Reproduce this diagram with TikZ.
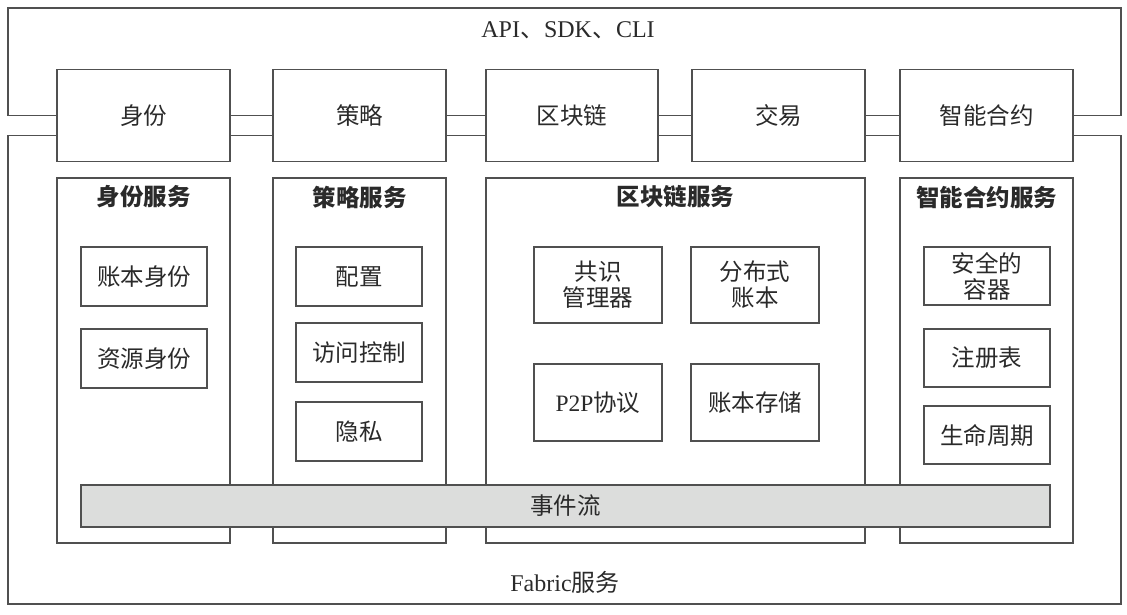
\documentclass[tikz,border=0pt]{standalone}
\usepackage{fontspec}
\setmainfont{Liberation Serif}
\newfontfamily\cjk{Noto Sans CJK SC}
\definecolor{ln}{HTML}{505050}
\definecolor{barfill}{HTML}{DCDDDC}
\definecolor{txt}{HTML}{2A2A2A}
\tikzset{
  box/.style={draw=ln, line width=1.3pt, rectangle, inner sep=0pt, outer sep=0pt, fill=white, text=txt,
    font=\cjk\fontsize{23.5}{26}\selectfont, align=center},
  svcbox/.style={draw=ln, line width=1.3pt, rectangle, inner sep=0pt, outer sep=0pt},
  ttl/.style={text=txt, font=\cjk\bfseries\fontsize{23.5}{26}\selectfont, inner sep=0pt},
  lbl/.style={text=txt, font=\fontsize{24}{28}\selectfont, inner sep=0pt},
  frame/.style={draw=ln, line width=1.3pt},
}
\begin{document}
\begin{tikzpicture}[x=1pt, y=-1pt]
\useasboundingbox (0,0) rectangle (1127,614);
% top interface boxes
\node[box, minimum width=173pt, minimum height=92pt] (id)  at (143.5,115.5) {身份};
\node[box, minimum width=173pt, minimum height=92pt] (pol) at (359.5,115.5) {策略};
\node[box, minimum width=172pt, minimum height=92pt] (bc)  at (572,115.5) {区块链};
\node[box, minimum width=173pt, minimum height=92pt] (tx)  at (778.5,115.5) {交易};
\node[box, minimum width=173pt, minimum height=92pt] (sc)  at (986.5,115.5) {智能合约};
% API frame
\coordinate (tl) at (8,8);
\coordinate (tr) at (1121,8);
\coordinate (bl) at (8,604);
\coordinate (br) at (1121,604);
\draw[frame] (id.west) -- (id.west -| tl) -- (tl) -- (tr) -- (sc.east -| tr) -- (sc.east);
\draw[frame] ([yshift=-20pt]id.west) -- ([yshift=-20pt]id.west -| bl) -- (bl) -- (br) -- ([yshift=-20pt]sc.east -| br) -- ([yshift=-20pt]sc.east);
\foreach \a/\b in {id/pol, pol/bc, bc/tx, tx/sc}{
  \draw[frame] (\a.east) -- (\b.west);
  \draw[frame] ([yshift=-20pt]\a.east) -- ([yshift=-20pt]\b.west);
}
\node[lbl] (api) at (568,30) {API{\cjk 、}SDK{\cjk 、}CLI};
\node[lbl] (fab) at (565,582) {Fabric{\cjk 服务}};
% service boxes
\node[svcbox, minimum width=173pt, minimum height=365pt] (ids) at (143.5,360.5) {};
\node[svcbox, minimum width=173pt, minimum height=365pt] (pols) at (359.5,360.5) {};
\node[svcbox, minimum width=379pt, minimum height=365pt] (bcs) at (675.5,360.5) {};
\node[svcbox, minimum width=173pt, minimum height=365pt] (scs) at (986.5,360.5) {};
\node[ttl] (idst) at (143.5,197) {身份服务};
\node[ttl] (polst) at (359.5,197) {策略服务};
\node[ttl] (bcst) at (675.5,197) {区块链服务};
\node[ttl] (scst) at (986.5,197) {智能合约服务};
% identity
\node[box, minimum width=126pt, minimum height=59pt] (id1) at (144,276.5) {账本身份};
\node[box, minimum width=126pt, minimum height=59pt] (id2) at (144,358.5) {资源身份};
% policy
\node[box, minimum width=126pt, minimum height=59pt] (p1) at (359,276.5) {配置};
\node[box, minimum width=126pt, minimum height=59pt] (p2) at (359,352.5) {访问控制};
\node[box, minimum width=126pt, minimum height=59pt] (p3) at (359,431.5) {隐私};
% blockchain
\node[box, minimum width=128pt, minimum height=76pt] (b1) at (598,285) {共识\\管理器};
\node[box, minimum width=128pt, minimum height=76pt] (b2) at (755,285) {分布式\\账本};
\node[box, minimum width=128pt, minimum height=77pt] (b3) at (598,402.5) {{\rmfamily P2P}协议};
\node[box, minimum width=128pt, minimum height=77pt] (b4) at (755,402.5) {账本存储};
% smart contract
\node[box, minimum width=126pt, minimum height=58pt] (s1) at (987,276) {安全的\\容器};
\node[box, minimum width=126pt, minimum height=58pt] (s2) at (987,358) {注册表};
\node[box, minimum width=126pt, minimum height=58pt] (s3) at (987,435) {生命周期};
% event stream
\node[box, fill=barfill, minimum width=969pt, minimum height=42pt] (ev) at (565.5,506) {事件流};
\end{tikzpicture}
\end{document}
